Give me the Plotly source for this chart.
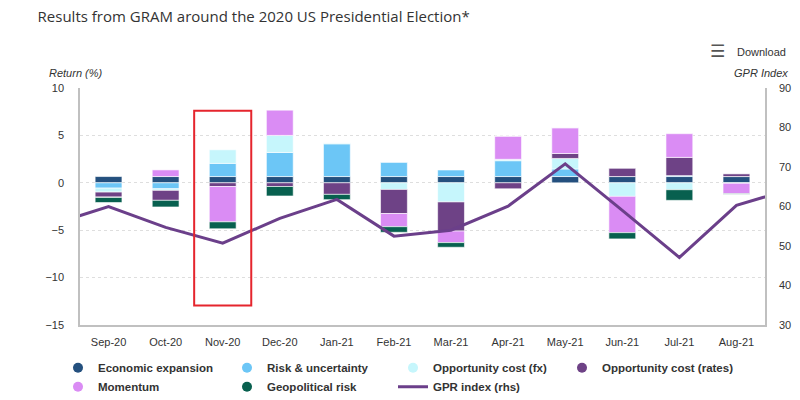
import plotly.graph_objects as go

# ---------------- data ----------------
months = ['Sep-20', 'Oct-20', 'Nov-20', 'Dec-20', 'Jan-21', 'Feb-21',
          'Mar-21', 'Apr-21', 'May-21', 'Jun-21', 'Jul-21', 'Aug-21']
# line extends beyond the shown months (clipped at plot edges)
gpr_months = ['Aug-20'] + months + ['Sep-21']

economic_expansion = [0.66, 0.66, 0.66, 0.66, 0.66, 0.66, 0.66, 0.66, 0.66, 0.66, 0.66, 0.66]
risk_uncertainty = [-0.56, -0.63, 1.39, 2.54, 3.45, 1.49, 0.69, 1.67, 0.80, 0.0, 0.10, 0.0]
opp_cost_fx = [-0.42, -0.17, 1.43, 1.80, 0.10, -0.70, -2.02, 0.15, 1.11, -1.43, -0.73, -0.05]
opp_cost_rates = [-0.52, -1.05, -0.39, -0.39, -1.22, -2.54, -3.07, -0.63, 0.52, 0.87, 1.92, 0.28]
momentum = [-0.05, 0.70, -3.73, 2.66, 0.0, -1.39, -1.22, 2.45, 2.72, -3.83, 2.50, -1.10]
geopolitical_risk = [-0.53, -0.70, -0.73, -1.00, -0.56, -0.59, -0.49, 0.0, 0.0, -0.66, -1.12, -0.05]
gpr_index = [55.4, 60.0, 54.7, 50.7, 57.0, 61.8, 52.5, 54.0, 60.1, 70.8, 59.0, 47.1, 60.3, 64.6]

# (name, values, colour, legend column)
series = [
    ('Economic expansion', economic_expansion, '#24507e', 'legend'),
    ('Risk & uncertainty', risk_uncertainty, '#6cc6f6', 'legend2'),
    ('Opportunity cost (fx)', opp_cost_fx, '#c6f6fc', 'legend3'),
    ('Opportunity cost (rates)', opp_cost_rates, '#6e4286', 'legend4'),
    ('Momentum', momentum, '#da8cf4', 'legend'),
    ('Geopolitical risk', geopolitical_risk, '#08604f', 'legend2'),
]
line_color = '#6b3f8a'

fig = go.Figure()
for name, vals, col, _ in series:
    fig.add_trace(go.Bar(
        x=months, y=vals, name=name, marker_color=col,
        marker_line=dict(color='white', width=0.6),
        showlegend=False, yaxis='y'))
for name, vals, col, leg in series:
    # legend proxy with circle symbol
    fig.add_trace(go.Scatter(
        x=[None], y=[None], mode='markers', name=name, legend=leg,
        marker=dict(symbol='circle', size=10, color=col), yaxis='y'))

fig.add_trace(go.Scatter(
    x=gpr_months, y=gpr_index, mode='lines', name='GPR index (rhs)',
    line=dict(color=line_color, width=3), yaxis='y2', cliponaxis=True,
    legend='legend3'))

axis_font = dict(family='Liberation Sans, Arial, sans-serif', size=11, color='#333333')
legend_font = dict(family='Liberation Sans, Arial, sans-serif', size=11.5,
                   color='#333333', weight='bold')


def legend_at(xpx):
    return dict(orientation='v', xref='container', yref='container',
                x=xpx / 800, xanchor='left', y=0.117, yanchor='top',
                traceorder='normal', tracegroupgap=0, font=legend_font,
                bgcolor='rgba(0,0,0,0)', itemclick=False, itemdoubleclick=False)


fig.update_layout(
    width=800, height=400,
    margin=dict(l=80, r=35, t=88, b=75, autoexpand=False),
    paper_bgcolor='white', plot_bgcolor='white',
    barmode='relative', bargap=0.53,
    showlegend=True,
    title=dict(text='Results from GRAM around the 2020 US Presidential Election*',
               x=0.047, xanchor='left', y=0.958, yanchor='middle',
               font=dict(family='Open Sans, sans-serif', size=15, color='#333333')),
    xaxis=dict(type='category', categoryorder='array', categoryarray=gpr_months,
               range=[0.5, 12.5], showgrid=False, showline=True,
               linecolor='#c0c0c0', linewidth=1.5, ticks='',
               tickfont=axis_font, ticklabelstandoff=6, zeroline=False,
               fixedrange=True, automargin=False),
    yaxis=dict(range=[-15, 10], tickvals=[10, 5, 0, -5, -10, -15],
               showgrid=True, gridcolor='#dedede', griddash='dot',
               showline=True, linecolor='#c0c0c0', linewidth=1.5,
               zeroline=False, tickfont=axis_font, ticklabelstandoff=12,
               fixedrange=True, automargin=False),
    yaxis2=dict(range=[30, 90], tickvals=[90, 80, 70, 60, 50, 40, 30],
                overlaying='y', side='right', showgrid=False,
                showline=True, linecolor='#c0c0c0', linewidth=1.5,
                zeroline=False, tickfont=axis_font, ticklabelstandoff=10,
                fixedrange=True, automargin=False),
    legend=legend_at(58),
    legend2=legend_at(227),
    legend3=legend_at(393),
    legend4=legend_at(562),
)

# red highlight box around Nov-20
fig.add_shape(type='rect', xref='x', yref='y', x0=2.5, x1=3.5, y0=-12.93, y1=7.59,
              line=dict(color='#e5252d', width=2), fillcolor='rgba(0,0,0,0)', layer='above')

# axis titles and download label
fig.add_annotation(text='<i>Return (%)</i>', xref='paper', yref='paper',
                   x=-0.048, y=1.063, xanchor='left', yanchor='middle', showarrow=False,
                   font=dict(family='Liberation Sans, Arial, sans-serif', size=11, color='#333333'))
fig.add_annotation(text='<i>GPR Index</i>', xref='paper', yref='paper',
                   x=1.036, y=1.063, xanchor='right', yanchor='middle', showarrow=False,
                   font=dict(family='Liberation Sans, Arial, sans-serif', size=11, color='#333333'))
fig.add_annotation(text='Download', xref='paper', yref='paper',
                   x=1.034, y=1.152, xanchor='right', yanchor='middle', showarrow=False,
                   font=dict(family='Liberation Sans, Arial, sans-serif', size=11, color='#333333'))
fig.add_annotation(text='☰', xref='paper', yref='paper',
                   x=0.945, y=1.157, xanchor='right', yanchor='middle', showarrow=False,
                   font=dict(family='DejaVu Sans, sans-serif', size=17, color='#555555'))

fig.write_html('out.html', config={'displayModeBar': False},
               post_script="document.body.style.margin='0';document.body.style.overflow='hidden';")
